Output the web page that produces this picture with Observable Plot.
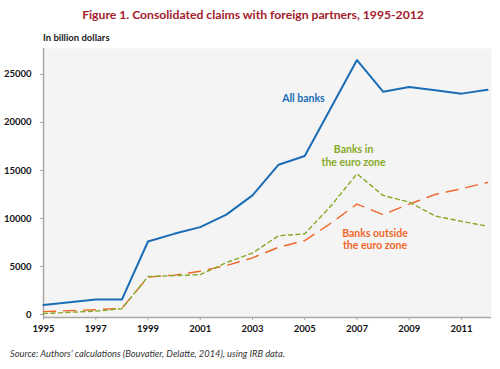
<!DOCTYPE html>
<html>
<head>
<meta charset="utf-8">
<script src="https://cdn.jsdelivr.net/npm/d3@7"></script>
<script src="https://cdn.jsdelivr.net/npm/@observablehq/plot@0.6"></script>
<style>
  html, body { margin: 0; padding: 0; background: #fff; }
  body { width: 500px; height: 369px; position: relative; overflow: hidden; font-family: Lato, "Open Sans", sans-serif; }
  #title { position: absolute; left: 0; width: 506px; top: 7px; text-align: center; font-size: 12.2px; font-weight: 700; color: #a3202b; }
  #subtitle { position: absolute; left: 43px; top: 32px; font-size: 9.5px; font-weight: 700; color: #222; }
  #chart { position: absolute; left: 0; top: 44px; }
  #caption { position: absolute; left: 10px; top: 348px; font-size: 9.3px; font-style: italic; color: #333; }
</style>
</head>
<body>
<div id="title">Figure 1. Consolidated claims with foreign partners, 1995-2012</div>
<div id="subtitle">In billion dollars</div>
<div id="chart"></div>
<div id="caption">Source: Authors’ calculations (Bouvatier, Delatte, 2014), using IRB data.</div>
<script>
const years = [1995,1996,1997,1998,1999,2000,2001,2002,2003,2004,2005,2006,2007,2008,2009,2010,2011,2012];
const allBanks = [1000,1280,1550,1550,7600,8400,9100,10400,12400,15600,16500,21500,26500,23200,23700,23350,23000,23400];
const euroZone = [100,230,350,600,3950,4050,4150,5400,6400,8200,8400,11300,14650,12400,11700,10250,9700,9200];
const outsideEuro = [300,400,500,650,3900,4100,4500,5100,5900,7000,7700,9500,11500,10400,11500,12500,13100,13750];
const xTicks = [1995,1997,1999,2001,2003,2005,2007,2009,2011];
const yTicks = [0,5000,10000,15000,20000,25000];
const seriesNames = ["All banks", "Banks in the euro zone", "Banks outside the euro zone"];

const blue = "#1a6db5", green = "#86aa26", orange = "#f0672a";

const rows = (vals, name) => years.map((y, i) => ({year: y, value: vals[i], series: name}));
const dAll = rows(allBanks, seriesNames[0]);
const dEuro = rows(euroZone, seriesNames[1]);
const dOut = rows(outsideEuro, seriesNames[2]);

const xDomain = [1995, 2012.15];
const yDomain = [-312, 27700];

const labels = [
  {year: 2004.95, value: 22600, text: "All banks", color: blue},
  {year: 2006.87, value: 16560, text: "Banks in\nthe euro zone", color: green},
  {year: 2007.69, value: 7880, text: "Banks outside\nthe euro zone", color: orange}
];

const chart = Plot.plot({
  width: 500,
  height: 297,
  marginLeft: 43,
  marginRight: 9,
  marginTop: 4,
  marginBottom: 24,
  style: {fontFamily: "Lato, 'Open Sans', sans-serif", background: "transparent"},
  x: {domain: xDomain, axis: null},
  y: {domain: yDomain, axis: null},
  marks: [
    Plot.frame({fill: "#f4f4f4", stroke: "none"}),
    Plot.axisY(yTicks, {anchor: "left", label: null, tickSize: 3, tickPadding: 9, stroke: "#aaa", fill: "#111", fontSize: 9.5, fontWeight: 700, tickFormat: d => String(d)}),
    Plot.axisX(xTicks, {anchor: "bottom", label: null, tickSize: 3, tickPadding: 5, stroke: "#aaa", fill: "#111", fontSize: 9.5, fontWeight: 700, tickFormat: d => String(d)}),
    Plot.ruleX([xDomain[0]], {stroke: "#a8a8a8", strokeWidth: 1.5}),
    Plot.ruleY([yDomain[0]], {stroke: "#a8a8a8", strokeWidth: 1.5}),
    Plot.line(dOut, {x: "year", y: "value", stroke: orange, strokeWidth: 1.4, strokeDasharray: "12,8"}),
    Plot.line(dEuro, {x: "year", y: "value", stroke: green, strokeWidth: 1.4, strokeDasharray: "4,3.5"}),
    Plot.line(dAll, {x: "year", y: "value", stroke: blue, strokeWidth: 2}),
    Plot.text(labels, {x: "year", y: "value", text: "text", fill: "color", fontSize: 10.5, fontWeight: 700, lineHeight: 1.2, textAnchor: "middle"})
  ]
});
document.getElementById("chart").appendChild(chart);
</script>
</body>
</html>
